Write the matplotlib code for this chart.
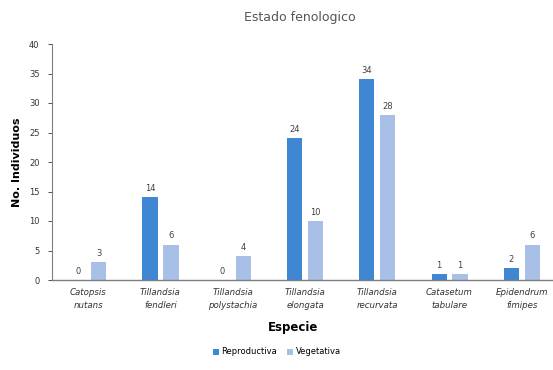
import matplotlib
matplotlib.use("Agg")
import matplotlib.pyplot as plt
import numpy as np

categories = ["Catopsis\nnutans", "Tillandsia\nfendleri", "Tillandsia\npolystachia",
              "Tillandsia\nelongata", "Tillandsia\nrecurvata", "Catasetum\ntabulare",
              "Epidendrum\nfimipes"]
reproductiva = [0, 14, 0, 24, 34, 1, 2]
vegetativa = [3, 6, 4, 10, 28, 1, 6]
yticks = [0, 5, 10, 15, 20, 25, 30, 35, 40]

W, H = 553, 370
fig = plt.figure(figsize=(W / 100, H / 100), dpi=100)
left, right, bottom, top = 52, 558, 280, 44
ax = fig.add_axes([left / W, 1 - bottom / H, (right - left) / W, (bottom - top) / H])

c_rep = "#3f86d3"
c_veg = "#a8bfe6"
x = np.arange(len(categories))
bw = 0.21
off = 0.145
b1 = ax.bar(x - off, reproductiva, bw, color=c_rep, label="Reproductiva")
b2 = ax.bar(x + off, vegetativa, bw, color=c_veg, label="Vegetativa")
for bars in (b1, b2):
    ax.bar_label(bars, padding=3, fontsize=6, color="#404040")

ax.set_xlim(-0.5, len(categories) - 0.5)
ax.set_ylim(0, 40)
ax.set_yticks(yticks)
ax.set_xticks(x)
ax.set_xticklabels(categories, fontstyle="italic", fontsize=6.2, color="#333333", linespacing=1.5)
ax.tick_params(axis="y", labelsize=6, colors="#333333", length=3, width=0.6, pad=6)
ax.tick_params(axis="x", length=0, pad=6)
for s in ("top", "right"):
    ax.spines[s].set_visible(False)
ax.spines["left"].set_color("#7f7f7f")
ax.spines["left"].set_linewidth(0.8)
ax.spines["bottom"].set_color("#7f7f7f")
ax.spines["bottom"].set_linewidth(1.0)

ax.set_ylabel("No. Individuos", fontsize=8, fontweight="bold", labelpad=5)
fig.text(293 / W, 1 - 327 / H, "Especie", fontsize=8.5, fontweight="bold", ha="center", va="center")
fig.text(300 / W, 1 - 18 / H, "Estado fenologico", fontsize=9, color="#555555", ha="center", va="center")

fig.legend(handles=[b1, b2], labels=["Reproductiva", "Vegetativa"], loc="center",
           bbox_to_anchor=(277 / W, 1 - 352 / H), ncol=2, frameon=False, fontsize=6,
           handlelength=0.7, handleheight=0.7, columnspacing=1.2, handletextpad=0.3)

fig.savefig("out.png", dpi=100)
